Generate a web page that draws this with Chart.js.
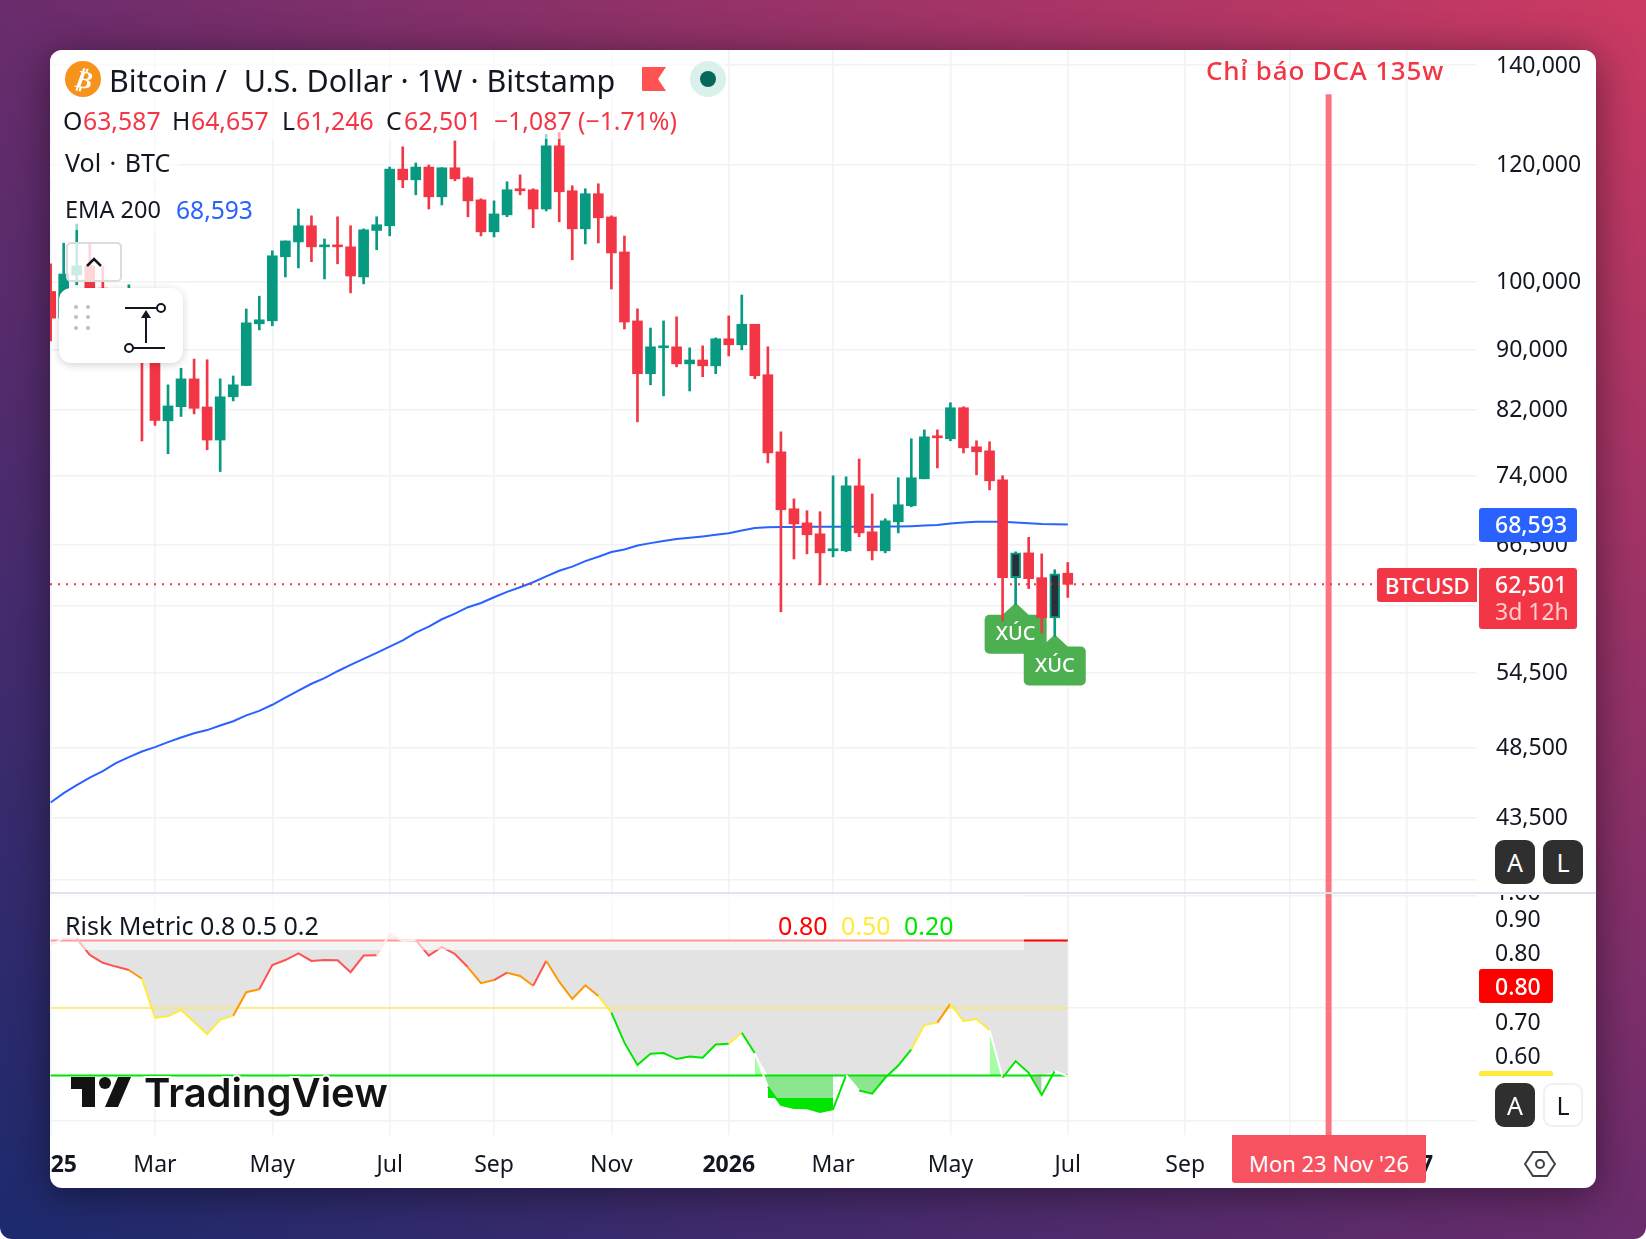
<!DOCTYPE html>
<html>
<head>
<meta charset="utf-8">
<title>Bitcoin / U.S. Dollar 1W</title>
<script src="https://cdn.jsdelivr.net/npm/chart.js@4"></script>
<style>
  html, body { margin: 0; padding: 0; background: #fff; }
  #page { position: relative; width: 1646px; height: 1239px; overflow: hidden; border-radius: 0 0 12px 12px;
    background: linear-gradient(to top right, #1c2a6e 0%, #6a2c6c 50%, #cc3a62 100%);
    font-family: "Noto Sans", sans-serif; color: #131722; }
  #card { position: absolute; left: 50px; top: 50px; width: 1546px; height: 1138px; background: #fff; border-radius: 12px;
    box-shadow: 0 6px 40px rgba(0,0,0,.45); overflow: hidden; }
  canvas { position: absolute; left: 0; display: block; }
  #mainChart { top: 0; }
  #riskChart { top: 843px; }
  .veil { position: absolute; background: rgba(255,255,255,.6); }
  .t { position: absolute; white-space: nowrap; transform: translateY(-50%); line-height: 1; }
  .red { color: #f23645; }
  .badge { position: absolute; border-radius: 3px; }
  .sq { position: absolute; width: 40px; height: 44px; border-radius: 9px; background: #2f2f2f; color: #fff;
    font-size: 25px; display: flex; align-items: center; justify-content: center; }
  #riskLabels { position: absolute; left: 1429px; top: 845px; width: 110px; height: 240px; overflow: hidden; }
</style>
</head>
<body>
<div id="page">
  <div id="card">
    <canvas id="mainChart" width="1546" height="843"></canvas>
    <canvas id="riskChart" width="1546" height="295"></canvas>

    <div class="veil" style="left:0;top:0;width:675px;height:89px"></div>
    <div class="veil" style="left:0;top:93px;width:129px;height:38px"></div>
    <div class="veil" style="left:0;top:140px;width:215px;height:40px"></div>
    <div class="veil" style="left:0;top:845px;width:974px;height:55px"></div>

    <!-- divider between the panes -->
    <div style="position:absolute;left:0;top:842px;width:1546px;height:2px;background:#e0e3eb"></div>

    <!-- header -->
    <div style="position:absolute;left:15px;top:11px;width:36px;height:36px;border-radius:50%;background:#f7931a;color:#fff;font:italic bold 25px 'DejaVu Sans';display:flex;align-items:center;justify-content:center"><span style="transform:rotate(10deg)">₿</span></div>
    <div class="t" id="title" style="left:59px;top:30px;font-size:30.5px">Bitcoin / <span style="margin-left:9px">U.S. Dollar · 1W · Bitstamp</span></div>
    <svg style="position:absolute;left:592px;top:17px" width="24" height="24"><path d="M1 0H24L16 12L24 24H1a1 1 0 0 1-1-1V1a1 1 0 0 1 1-1z" fill="#ff5252"/></svg>
    <div style="position:absolute;left:640px;top:11px;width:36px;height:36px;border-radius:50%;background:#daf0ea"></div>
    <div style="position:absolute;left:650px;top:21px;width:16px;height:16px;border-radius:50%;background:#06685a"></div>

    <div class="t" style="left:13px;top:70px;font-size:24.8px">O</div><div class="t red" style="left:33px;top:70px;font-size:24.8px">63,587</div>
    <div class="t" style="left:122px;top:70px;font-size:24.8px">H</div><div class="t red" style="left:141px;top:70px;font-size:24.8px">64,657</div>
    <div class="t" style="left:232px;top:70px;font-size:24.8px">L</div><div class="t red" style="left:246px;top:70px;font-size:24.8px">61,246</div>
    <div class="t" style="left:336px;top:70px;font-size:24.8px">C</div><div class="t red" style="left:354px;top:70px;font-size:24.8px">62,501</div>
    <div class="t red" style="left:444px;top:70px;font-size:24.8px">−1,087 (−1.71%)</div>
    <div class="t" style="left:15px;top:112px;font-size:25px;word-spacing:2px">Vol · BTC</div>
    <div class="t" style="left:15px;top:160px;font-size:23.5px">EMA 200</div>
    <div class="t" style="left:126px;top:160px;font-size:24.6px;color:#2962ff">68,593</div>

    <!-- collapse button and floating tool -->
    <div style="position:absolute;left:16px;top:192px;width:56px;height:40px;box-sizing:border-box;border:2px solid #dcdcdc;border-radius:5px;background:rgba(255,255,255,.8)">
      <svg width="52" height="36"><path d="M19 22L26 15L33 22" fill="none" stroke="#131722" stroke-width="2.5"/></svg>
    </div>
    <div style="position:absolute;left:9px;top:238px;width:124px;height:75px;background:#fff;border-radius:12px;box-shadow:0 2px 8px rgba(0,0,0,.18)">
      <svg width="124" height="75">
        <g fill="#bdbdbd"><circle cx="17" cy="19" r="2"/><circle cx="29" cy="19" r="2"/><circle cx="17" cy="29" r="2"/><circle cx="29" cy="29" r="2"/><circle cx="17" cy="40" r="2"/><circle cx="29" cy="40" r="2"/></g>
        <g fill="none" stroke="#131722" stroke-width="2"><path d="M66 20H98"/><circle cx="102" cy="20" r="4"/><path d="M74 60H106"/><circle cx="70" cy="60" r="4"/><path d="M87 55V27"/></g>
        <path d="M82 30L87 22L92 30z" fill="#131722"/>
      </svg>
    </div>

    <div class="t red" style="left:1156px;top:20px;font-size:26px;font-weight:500;letter-spacing:.8px">Chỉ báo DCA 135w</div>

    <!-- price axis badges -->
    <div class="badge" style="left:1429px;top:458px;width:98px;height:34px;background:#2962ff"></div>
    <div class="t" style="left:1445px;top:474px;font-size:23px;font-weight:500;color:#fff">68,593</div>
    <div class="badge" style="left:1327px;top:518px;width:100px;height:34px;background:#f23645;border-radius:3px 0 0 3px"></div>
    <div class="t" style="left:1335px;top:535px;font-size:22px;font-weight:500;color:#fff">BTCUSD</div>
    <div class="badge" style="left:1429px;top:518px;width:98px;height:61px;background:#f23645"></div>
    <div class="t" style="left:1445px;top:534px;font-size:23px;font-weight:500;color:#fff">62,501</div>
    <div class="t" style="left:1445px;top:561px;font-size:23px;color:#fcc">3d 12h</div>

    <div class="sq" style="left:1445px;top:790px">A</div>
    <div class="sq" style="left:1493px;top:790px">L</div>

    <!-- risk pane -->
    <div class="t" style="left:15px;top:875px;font-size:25px">Risk Metric 0.8 0.5 0.2</div>
    <div class="t" style="left:728px;top:875px;font-size:25px;color:#ff0000">0.80</div>
    <div class="t" style="left:791px;top:875px;font-size:25px;color:#ffeb3b">0.50</div>
    <div class="t" style="left:854px;top:875px;font-size:25px;color:#00e600">0.20</div>

    <div id="riskLabels"></div>
    <div class="badge" style="left:1429px;top:919px;width:74px;height:34px;background:#ff0000"></div>
    <div class="t" style="left:1445px;top:936px;font-size:23px;font-weight:500;color:#fff">0.80</div>
    <div class="badge" style="left:1429px;top:1021px;width:74px;height:5px;background:#ffeb3b;border-radius:2px 2px 0 0"></div>

    <div class="sq" style="left:1445px;top:1033px">A</div>
    <div class="sq" style="left:1493px;top:1033px;background:#fff;color:#131722;box-sizing:border-box;border:2px solid #eef0f3">L</div>

    <!-- crosshair date label -->
    <div style="position:absolute;left:1182px;top:1085px;width:194px;height:48px;box-sizing:border-box;padding-top:7px;background:#f7525f;border-radius:0 0 3px 3px;color:#fff;font-size:22px;display:flex;align-items:center;justify-content:center">Mon 23 Nov '26</div>

    <svg style="position:absolute;left:1474px;top:1098px" width="32" height="32"><path d="M9 4H23L31 16L23 28H9L1 16z" fill="none" stroke="#3a3f4a" stroke-width="2"/><circle cx="16" cy="16" r="4" fill="none" stroke="#3a3f4a" stroke-width="2"/></svg>

    <!-- watermark -->
    <svg style="position:absolute;left:15px;top:1020px" width="345" height="56">
      <path d="M6 7H30V37H17V19H6z" fill="#131313"/>
      <circle cx="40" cy="13" r="6" fill="#131313"/>
      <path d="M53 7H66L53 37H40z" fill="#131313"/>
      <text x="79" y="37" font-family="Inter" font-weight="600" font-size="40" fill="#131313" stroke="#fff" stroke-width="4" paint-order="stroke" letter-spacing="0">TradingView</text>
    </svg>
  </div>
</div>

<script>
// weekly candles, week 0 is the first visible bar (Jan 2025)
const opens = [98490,94490,101040,102490,99000,93280,91340,92310,90420,80570,82360,85990,82320,78200,83630,85110,93670,94100,103940,106370,109070,105560,105880,105560,100740,108280,109070,119100,117140,119480,114090,119350,117500,113550,108050,110930,115520,115340,111950,123490,115160,108550,114640,110570,104720,94090,86680,90240,90380,88020,88550,87750,91510,90660,93600,86550,76780,70280,68760,67600,65840,65840,72830,67810,65840,68870,70610,73630,78710,78350,82220,77380,76900,73520,63150,65630,63150,59330,63587];
const highs = [102810,106150,109350,106260,102380,96190,99510,94250,91830,85200,87420,88670,88580,85990,86380,95850,97770,104910,106530,111950,110770,106860,110600,109070,108550,110600,119480,123300,120240,119860,119350,124430,117680,113730,113370,116780,118040,115520,125690,126070,116060,115520,116420,110770,107350,95870,93060,94090,94690,90240,90520,91650,94830,97950,93600,90380,79200,71370,70070,69960,73980,73860,75930,71920,69200,73750,78350,79440,79440,82860,82350,78110,77990,73980,65740,67230,65530,63930,64657];
const lows = [91200,93760,99510,94740,91340,89500,89040,78080,80000,76550,81110,81440,77020,74460,83100,85110,92790,93380,100740,102160,103150,100430,102810,98280,99660,105070,107370,115700,114450,111950,112650,116960,110600,107370,107200,110600,114450,108730,111610,109750,103460,106040,106200,98870,92920,80440,85200,83750,87610,84390,86280,86680,89110,89960,86010,75470,59890,65010,65530,62460,65220,65740,67290,64910,65630,67700,70500,73630,74890,78110,76650,74090,72370,59050,60550,62090,57960,57640,61246];
const closes = [94490,101190,102490,96190,93280,91340,93760,88580,80610,82450,85990,82150,78200,83630,85200,93810,94250,104100,106530,109070,105560,105880,105560,100890,108390,109240,119100,117140,119480,114090,119350,117320,113370,108050,111100,115340,115160,111950,123490,114980,108550,114640,110430,104560,93930,86680,90380,90520,88020,88550,87750,91510,90660,93600,86410,76650,70180,68650,67500,65630,66050,72830,67700,65840,68980,70720,73750,78590,78470,82220,77260,76780,73400,63150,65630,63050,59330,63540,62501];
const ema200 = [44540,45190,45760,46300,46760,47350,47790,48210,48540,48920,49270,49600,49840,50200,50530,50990,51350,51840,52420,53000,53560,54030,54610,55150,55670,56190,56730,57300,57990,58520,59200,59720,60320,60720,61260,61770,62220,62700,63280,63830,64240,64800,65240,65720,65980,66390,66630,66840,67050,67190,67330,67500,67670,67950,68220,68290,68320,68330,68340,68340,68340,68350,68350,68350,68360,68360,68400,68470,68540,68690,68800,68870,68870,68870,68800,68720,68650,68620,68593];
const riskLine = [0.780,0.810,0.808,0.736,0.701,0.684,0.669,0.630,0.457,0.463,0.491,0.438,0.384,0.447,0.466,0.570,0.583,0.691,0.713,0.743,0.709,0.713,0.712,0.659,0.733,0.734,0.827,0.799,0.802,0.733,0.771,0.740,0.681,0.610,0.624,0.657,0.642,0.599,0.709,0.617,0.540,0.601,0.553,0.479,0.346,0.247,0.297,0.300,0.273,0.284,0.279,0.338,0.341,0.390,0.299,0.150,0.069,0.056,0.054,0.038,0.050,0.202,0.133,0.119,0.190,0.244,0.316,0.424,0.435,0.518,0.441,0.451,0.401,0.190,0.264,0.212,0.113,0.220,0.196];

const priceTicks = [140000,120000,100000,90000,82000,74000,66500,60500,54500,48500,43500,39500];
const unlabelledPrices = [39500];
const riskGrid = [1,0.5,0];
const riskAxisLabels = ["1.00","0.90","0.80","0.70","0.60"];
const thresholds = [0.8,0.5,0.2];
const lastClose = 62501;
const timeTickWeeks = [0,8,17,26,34,43,52,60,69,78,87,95,104];
const timeTickLabels = ["2025","Mar","May","Jul","Sep","Nov","2026","Mar","May","Jul","Sep","Nov","2027"];
const yearWeeks = [0,52,104];
const dcaWeek = 98;
const dcaTopPrice = 133800;
const signalWeeks = [74,77];
const whiteSegments = [55,62,73,78];
const greenBands = [[54,60],[61,64],[72,73],[75,76]];
const deepGreenBand = [55,60];

const COLORS = {
  up: "#089981", down: "#f23645", hollow: "#2a2e39", ema: "#2962ff", grid: "#f1f2f4",
  dca: "#fb7482", text: "#131722", signal: "#4caf50",
  red: "#ff0000", yellow: "rgba(255,235,59,.6)", green: "#00e600",
};

// x range runs a little before the first bar and on into the empty future weeks
const WEEK_MIN = -0.05, WEEK_MAX = 109.38;
const weeks = opens.map((_, i) => i);
const isUp = (i) => closes[i] >= opens[i];
const candleColor = (i) => (isUp(i) ? COLORS.up : COLORS.down);

Chart.defaults.font.family = '"Noto Sans", sans-serif';

function xScale(showLabels) {
  return {
    type: "linear", min: WEEK_MIN, max: WEEK_MAX, offset: false,
    border: { display: false },
    grid: { color: COLORS.grid, lineWidth: 1.5, drawTicks: false, offset: false },
    afterBuildTicks: (s) => { s.ticks = timeTickWeeks.map((value) => ({ value })); },
    afterFit: (s) => { s.height = showLabels ? 53 : 0; s.paddingLeft = 0; s.paddingRight = 0; },
    ticks: {
      display: showLabels, autoSkip: false, maxRotation: 0, padding: 17, color: COLORS.text,
      font: (ctx) => ({ size: 23, weight: ctx.tick && yearWeeks.includes(ctx.tick.value) ? "bold" : "normal" }),
      callback: (v) => timeTickLabels[timeTickWeeks.indexOf(v)],
    },
  };
}

function fitAxisWidth(s) { s.width = 119; s.paddingTop = 0; s.paddingBottom = 0; }

// green "XÚC" tags under the two highlighted bars, drawn below the candles
const signalTags = {
  id: "signalTags",
  beforeDatasetsDraw(chart) {
    const { ctx, scales } = chart;
    signalWeeks.forEach((w) => {
      const x = scales.x.getPixelForValue(w);
      const tip = scales.y.getPixelForValue(lows[w]) - 2;
      ctx.save();
      ctx.fillStyle = COLORS.signal;
      ctx.beginPath();
      ctx.moveTo(x, tip);
      ctx.lineTo(x + 14, tip + 13);
      ctx.lineTo(x - 14, tip + 13);
      ctx.closePath();
      ctx.fill();
      ctx.beginPath();
      ctx.roundRect(x - 31, tip + 12, 62, 39, 5);
      ctx.fill();
      ctx.fillStyle = "#fff";
      ctx.font = '500 20px "Noto Sans"';
      ctx.textAlign = "center";
      ctx.textBaseline = "middle";
      ctx.fillText("XÚC", x, tip + 32);
      ctx.restore();
    });
  },
};

new Chart(document.getElementById("mainChart"), {
  type: "bar",
  plugins: [signalTags],
  data: {
    datasets: [
      {
        label: "body", order: 1, barThickness: 10, grouped: false, borderSkipped: false,
        data: weeks.map((w) => ({ x: w, y: [opens[w], closes[w]] })),
        backgroundColor: (c) => (signalWeeks.includes(c.dataIndex) ? COLORS.hollow : candleColor(c.dataIndex)),
        borderColor: (c) => candleColor(c.dataIndex),
        borderWidth: (c) => (signalWeeks.includes(c.dataIndex) ? 2 : 0),
      },
      {
        label: "wick", order: 2, barThickness: 2, grouped: false,
        data: weeks.map((w) => ({ x: w, y: [lows[w], highs[w]] })),
        backgroundColor: (c) => candleColor(c.dataIndex),
      },
      {
        type: "line", label: "EMA 200", order: 3, borderColor: COLORS.ema, borderWidth: 2, pointRadius: 0,
        data: weeks.map((w) => ({ x: w, y: ema200[w] })),
      },
      {
        type: "line", label: "last", order: 0, borderColor: COLORS.down, borderWidth: 2, borderDash: [2, 6], pointRadius: 0,
        data: [{ x: WEEK_MIN, y: lastClose }, { x: WEEK_MAX, y: lastClose }],
      },
      {
        type: "line", label: "DCA 135w", order: 0, borderColor: COLORS.dca, borderWidth: 6, pointRadius: 0,
        data: [{ x: dcaWeek, y: dcaTopPrice }, { x: dcaWeek, y: 30000 }],
      },
    ],
  },
  options: {
    responsive: false, animation: false, devicePixelRatio: 1,
    layout: { padding: 0 },
    plugins: { legend: { display: false }, tooltip: { enabled: false } },
    scales: {
      x: xScale(false),
      y: {
        type: "logarithmic", position: "right", min: 38700, max: 143300,
        border: { display: false },
        grid: { color: COLORS.grid, lineWidth: 1.5, drawTicks: false },
        afterBuildTicks: (s) => { s.ticks = priceTicks.map((value) => ({ value })); },
        afterFit: fitAxisWidth,
        ticks: {
          autoSkip: false, crossAlign: "near", padding: 19, labelOffset: 1, color: COLORS.text, font: { size: 23 },
          callback: (v) => (unlabelledPrices.includes(v) ? "" : v.toLocaleString("en-US")),
        },
      },
    },
  },
});

const riskPoints = (from, to) => weeks.filter((w) => w >= from && w <= to).map((w) => ({ x: w, y: riskLine[w] }));

function riskSegmentColor(c) {
  const v = c.p1.parsed.y;
  if (whiteSegments.includes(c.p1DataIndex)) return "#ffffff";
  if (v >= 0.79) return "#ffd3d3";
  if (v >= 0.65) return "#ff5252";
  if (v >= 0.5) return "#ff9800";
  if (v >= 0.36) return "#ffeb3b";
  return COLORS.green;
}

const bandDatasets = greenBands.map(([from, to]) => ({
  label: "band", order: 5, borderWidth: 0, pointRadius: 0, data: riskPoints(from, to),
  fill: { target: { value: 0.2 }, above: "#a6ffa6", below: from === 75 ? "#a3cfa6" : "#8be68f" },
}));

new Chart(document.getElementById("riskChart"), {
  type: "line",
  data: {
    datasets: [
      {
        label: "shade", order: 6, borderWidth: 0, pointRadius: 0,
        data: weeks.map((w) => ({ x: w, y: Math.max(riskLine[w], 0.2) })),
        fill: { target: { value: 0.8 }, above: "rgba(255,82,82,.25)", below: "#e3e3e3" },
      },
      ...bandDatasets,
      {
        label: "deep", order: 4, borderWidth: 0, pointRadius: 0, data: riskPoints(deepGreenBand[0], deepGreenBand[1]),
        fill: { target: { value: 0.1 }, above: COLORS.green, below: COLORS.green },
      },
      ...thresholds.map((t, i) => ({
        label: "level", order: 3, borderWidth: 2, pointRadius: 0,
        borderColor: [COLORS.red, COLORS.yellow, COLORS.green][i],
        data: weeks.map((w) => ({ x: w, y: t })),
      })),
      {
        label: "Risk Metric", order: 1, borderWidth: 2, pointRadius: 0,
        data: riskPoints(0, 78),
        segment: { borderColor: riskSegmentColor },
      },
      {
        label: "DCA 135w", order: 2, borderColor: COLORS.dca, borderWidth: 6, pointRadius: 0,
        data: [{ x: dcaWeek, y: 2 }, { x: dcaWeek, y: -1 }],
      },
    ],
  },
  options: {
    responsive: false, animation: false, devicePixelRatio: 1,
    layout: { padding: 0 },
    plugins: { legend: { display: false }, tooltip: { enabled: false } },
    scales: {
      x: xScale(true),
      y: {
        position: "right", min: -0.0644, max: 1.011,
        border: { display: false },
        grid: { color: COLORS.grid, lineWidth: 1.5, drawTicks: false },
        afterBuildTicks: (s) => { s.ticks = riskGrid.map((value) => ({ value })); },
        afterFit: fitAxisWidth,
        ticks: { display: false },
      },
    },
  },
});

// the pane's price labels are stacked by the badges, so they sit in their own column
const riskLabelOffsets = [-4, 23, 57, 126, 160];
document.getElementById("riskLabels").innerHTML = riskAxisLabels
  .map((txt, i) => `<div class="t" style="left:16px;top:${riskLabelOffsets[i]}px;font-size:23px">${txt}</div>`)
  .join("");
</script>
</body>
</html>
